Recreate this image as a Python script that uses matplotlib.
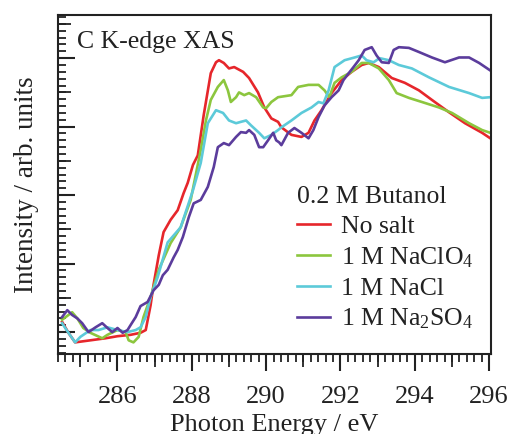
import numpy as np
import matplotlib
matplotlib.use("Agg")
import matplotlib.pyplot as plt
from matplotlib.ticker import MultipleLocator, NullFormatter

plt.rcParams['font.family'] = ['Liberation Serif', 'DejaVu Serif']
plt.rcParams['mathtext.fontset'] = 'custom'
plt.rcParams['mathtext.rm'] = 'Liberation Serif'
plt.rcParams['mathtext.it'] = 'Liberation Serif:italic'

# C K-edge spectra of 0.2 M butanol, photon energy (eV) vs intensity (arb.)
e_nosalt = [284.51, 284.68, 284.86, 285.27, 285.68, 286.00, 286.35, 286.62, 286.76, 286.89,
            286.97, 287.11, 287.24, 287.43, 287.62, 287.78, 287.89, 288.03, 288.16, 288.32,
            288.51, 288.65, 288.73, 288.86, 289.00, 289.14, 289.38, 289.54, 289.78, 289.95,
            290.14, 290.32, 290.41, 290.68, 290.95, 291.14, 291.30, 291.49, 291.76, 292.03,
            292.30, 292.57, 292.76, 293.03, 293.38, 293.73, 294.11, 294.46, 294.92, 295.35,
            295.81, 296.03]
i_nosalt = [0.15, -0.01, -0.15, -0.12, -0.09, -0.06, -0.04, -0.01, 0.03, 0.39,
            0.69, 1.12, 1.46, 1.64, 1.78, 2.03, 2.18, 2.44, 2.58, 3.17,
            3.78, 3.94, 3.97, 3.93, 3.85, 3.87, 3.80, 3.71, 3.50, 3.28,
            3.12, 3.07, 2.99, 2.88, 2.85, 2.91, 3.09, 3.24, 3.49, 3.68,
            3.80, 3.90, 3.93, 3.87, 3.71, 3.64, 3.53, 3.39, 3.21, 3.05,
            2.91, 2.83]

e_naclo4 = [284.51, 284.78, 284.92, 285.08, 285.27, 285.59, 285.73, 286.00, 286.22, 286.30,
            286.43, 286.57, 286.70, 286.89, 287.11, 287.43, 287.70, 287.97, 288.24, 288.38,
            288.51, 288.70, 288.86, 288.97, 289.05, 289.19, 289.27, 289.41, 289.54, 289.73,
            289.92, 290.00, 290.14, 290.32, 290.68, 290.86, 291.14, 291.41, 291.57, 291.70,
            291.84, 292.03, 292.30, 292.57, 292.76, 293.03, 293.30, 293.51, 293.84, 294.19,
            294.65, 295.00, 295.46, 295.81, 296.03]
i_naclo4 = [0.18, 0.29, 0.20, 0.06, -0.01, -0.09, -0.04, 0.03, 0.00, -0.12,
            -0.15, -0.07, 0.22, 0.51, 0.91, 1.30, 1.53, 1.93, 2.66, 3.09,
            3.39, 3.58, 3.68, 3.53, 3.36, 3.43, 3.50, 3.46, 3.49, 3.43,
            3.28, 3.27, 3.36, 3.43, 3.46, 3.58, 3.61, 3.61, 3.53, 3.43,
            3.64, 3.72, 3.80, 3.93, 3.93, 3.85, 3.68, 3.49, 3.42, 3.36,
            3.28, 3.20, 3.05, 2.95, 2.91]

e_nacl = [284.51, 284.68, 284.86, 285.00, 285.27, 285.49, 285.73, 286.00, 286.27, 286.49,
          286.62, 286.76, 286.89, 287.08, 287.35, 287.70, 288.03, 288.24, 288.43, 288.65,
          288.84, 289.00, 289.19, 289.32, 289.46, 289.59, 289.81, 289.95, 290.14, 290.32,
          290.41, 290.68, 290.95, 291.22, 291.41, 291.54, 291.68, 291.84, 292.11, 292.38,
          292.57, 292.70, 292.89, 293.05, 293.30, 293.57, 293.92, 294.38, 294.92, 295.46,
          295.81, 296.03]
i_nacl = [0.13, -0.01, -0.15, -0.07, 0.03, 0.03, 0.07, 0.03, 0.00, 0.03,
          0.07, 0.22, 0.51, 0.80, 1.31, 1.53, 2.07, 2.47, 3.05, 3.24,
          3.20, 3.09, 3.05, 3.07, 3.09, 3.02, 2.91, 2.83, 2.88, 2.95,
          2.99, 3.09, 3.20, 3.28, 3.36, 3.34, 3.53, 3.87, 3.97, 4.01,
          4.04, 3.97, 3.94, 4.00, 3.97, 3.90, 3.85, 3.72, 3.58, 3.49,
          3.42, 3.43]

e_na2so4 = [284.51, 284.65, 284.78, 284.92, 285.05, 285.22, 285.41, 285.59, 285.73, 285.86,
            286.00, 286.14, 286.27, 286.35, 286.49, 286.62, 286.81, 286.97, 287.11, 287.22,
            287.35, 287.51, 287.62, 287.76, 287.92, 288.05, 288.24, 288.43, 288.59, 288.70,
            288.86, 289.00, 289.19, 289.32, 289.46, 289.54, 289.68, 289.81, 289.92, 290.05,
            290.19, 290.27, 290.35, 290.41, 290.59, 290.76, 290.95, 291.14, 291.27, 291.41,
            291.57, 291.76, 291.95, 292.08, 292.22, 292.35, 292.49, 292.65, 292.84, 292.97,
            293.11, 293.30, 293.43, 293.57, 293.84, 294.11, 294.46, 294.81, 295.19, 295.46,
            295.73, 296.03]
i_na2so4 = [0.22, 0.32, 0.25, 0.20, 0.13, 0.00, 0.07, 0.13, 0.06, 0.00,
            0.06, -0.01, 0.03, 0.10, 0.22, 0.38, 0.44, 0.61, 0.69, 0.83,
            0.91, 1.09, 1.20, 1.39, 1.68, 1.88, 1.93, 2.12, 2.41, 2.70,
            2.76, 2.73, 2.85, 2.92, 2.91, 2.95, 2.88, 2.70, 2.70, 2.80,
            2.91, 2.80, 2.77, 2.73, 2.91, 2.98, 2.91, 2.83, 2.95, 3.14,
            3.31, 3.43, 3.53, 3.68, 3.78, 3.87, 3.97, 4.12, 4.16, 4.04,
            3.94, 3.93, 4.12, 4.16, 4.15, 4.09, 4.01, 3.94, 4.01, 4.01,
            3.93, 3.82]

labels = ['No salt', '1 M NaClO$_4$', '1 M NaCl', '1 M Na$_2$SO$_4$']
colors = ['#e6262b', '#8cc63e', '#5ccad9', '#5b3c9c']

fig = plt.figure(figsize=(5.08, 4.34), dpi=100)
ax = fig.add_axes([0.1142, 0.1843, 0.8524, 0.7811])

series = [(e_nosalt, i_nosalt), (e_naclo4, i_naclo4), (e_nacl, i_nacl), (e_na2so4, i_na2so4)]
for (e, i), lab, c in zip(series, labels, colors):
    ax.plot(e, i, color=c, lw=1.9, label=lab)

ax.set_xlim(284.4, 296.05)
ax.set_ylim(-0.32, 4.63)

for s in ax.spines.values():
    s.set_linewidth(1.5)
    s.set_color('#222222')

ax.xaxis.set_major_locator(MultipleLocator(2))
ax.xaxis.set_minor_locator(MultipleLocator(0.2))
ax.yaxis.set_major_locator(MultipleLocator(1))
ax.yaxis.set_minor_locator(MultipleLocator(0.1))
ax.yaxis.set_major_formatter(NullFormatter())
ax.tick_params(axis='x', which='major', direction='out', length=12, width=1.5,
               labelsize=19, pad=11, colors='#222222')
ax.tick_params(axis='x', which='minor', direction='out', length=6, width=1.3, colors='#222222')
ax.tick_params(axis='y', which='major', direction='in', length=12, width=1.5, colors='#222222')
ax.tick_params(axis='y', which='minor', direction='in', length=6, width=1.3, colors='#222222')

# half-interval ticks, a little longer than the minor ones
secx = ax.secondary_xaxis('bottom')
secx.set_xticks(np.arange(285, 297, 2))
secx.tick_params(direction='out', length=9, width=1.3, labelbottom=False, colors='#222222')
secx.spines['bottom'].set_visible(False)
secy = ax.secondary_yaxis('left')
secy.set_yticks(np.arange(-0.5, 4.6, 1))
secy.tick_params(direction='in', length=9, width=1.3, labelleft=False, colors='#222222')
secy.spines['left'].set_visible(False)

ax.set_xlabel('Photon Energy / eV', fontsize=19, labelpad=4, color='#222222')
ax.set_ylabel('Intensity / arb. units', fontsize=19.5, labelpad=10, color='#222222')

ax.text(0.044, 0.92, 'C K-edge XAS', transform=ax.transAxes, fontsize=18.5,
        va='center', ha='left', color='#222222')

leg = ax.legend(title='0.2 M Butanol', loc='upper left', bbox_to_anchor=(0.552, 0.495),
                frameon=False, fontsize=18.5, title_fontsize=18.5, handlelength=1.3,
                handletextpad=0.4, labelspacing=0.27, borderpad=0, borderaxespad=0)
leg._legend_box.align = 'left'
for t in leg.get_texts():
    t.set_color('#222222')
leg.get_title().set_color('#222222')

fig.savefig('out.png', dpi=100)
